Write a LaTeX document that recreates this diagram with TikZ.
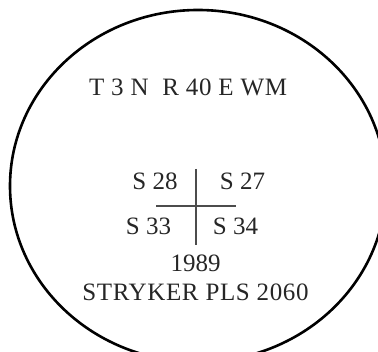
\documentclass[tikz,border=0pt]{standalone}
\usepackage{fontspec}
\setmainfont{Liberation Serif}
\newfontfamily\spacedserif[LetterSpace=2.5]{Liberation Serif}
\begin{document}
\begin{tikzpicture}[x=1pt,y=-1pt,
  lbl/.style={inner sep=0pt, anchor=base, text=black!85, font=\fontsize{25}{30}\selectfont},
  wide/.style={lbl, font=\fontsize{25}{30}\spacedserif},
  rim/.style={line width=2.6pt},
  cross/.style={line width=1.2pt, black!70}]
\useasboundingbox (0,0) rectangle (378,352);
\begin{scope}
  \clip (0,0) rectangle (378,352);
  \draw[rim] (198,186) ellipse [x radius=188pt, y radius=176pt];
\end{scope}
\node[wide] (twp) at (188,96) {T 3 N\ \ R 40 E WM};
\node[lbl] (s28) at (155,190) {S 28};
\node[lbl] (s27) at (242.5,190) {S 27};
\node[lbl] (s33) at (148.5,235) {S 33};
\node[lbl] (s34) at (235.5,235) {S 34};
\node[lbl] (yr) at (195.5,272) {1989};
\node[wide] (pls) at (195.5,301) {STRYKER PLS 2060};
\draw[cross] (196,169) -- (196,245);
\draw[cross] (156,206) -- (236,206);
\end{tikzpicture}
\end{document}
